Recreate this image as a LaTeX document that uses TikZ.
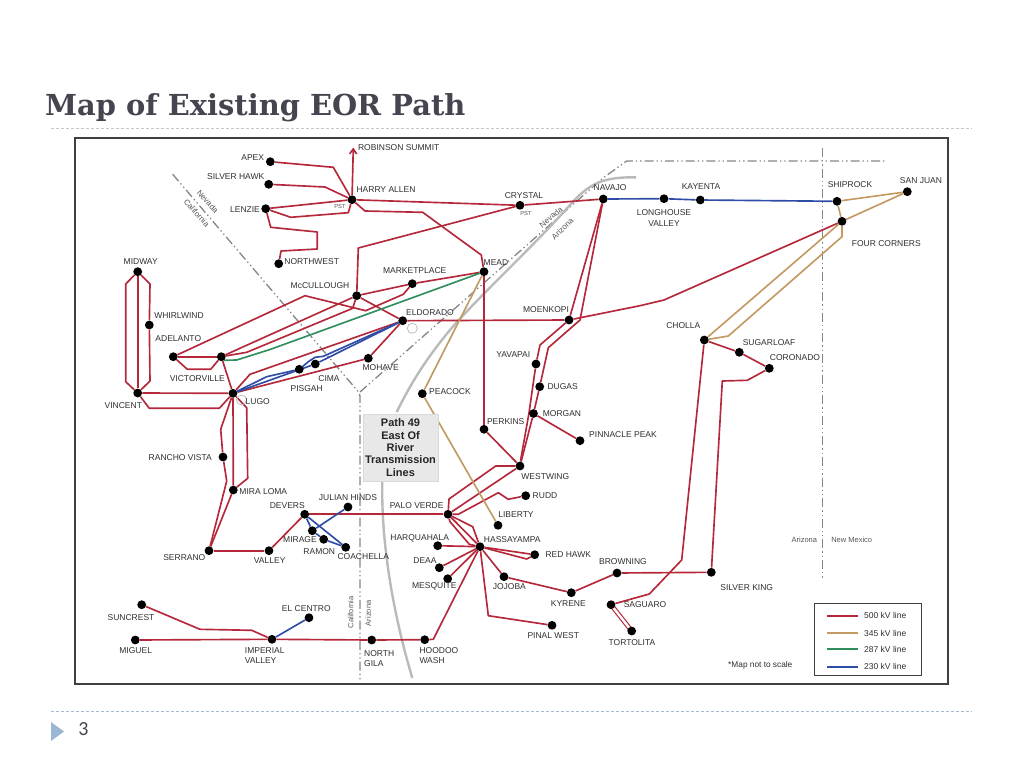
\documentclass[tikz,border=0pt]{standalone}
\usepackage{fontspec}
\setmainfont{Liberation Sans}
\newfontfamily\titlefont{DejaVu Serif}
\newfontfamily\numfont{Carlito}
\usetikzlibrary{arrows.meta}
\definecolor{cRed}{HTML}{B4283A}
\definecolor{cTan}{HTML}{C39A62}
\definecolor{cGreen}{HTML}{2F8F5F}
\definecolor{cBlue}{HTML}{2F4DA6}
\definecolor{cText}{HTML}{2E2E2E}
\definecolor{cBorder}{HTML}{858585}
\definecolor{cSmall}{HTML}{555555}
\definecolor{cTitle}{HTML}{44454F}
\definecolor{cBullet}{HTML}{9BB7D4}
\definecolor{cRuleB}{HTML}{A9BBCB}
\pgfdeclarelayer{wires}
\pgfsetlayers{wires,main}
\tikzset{
  bus/.style={circle,fill=black,inner sep=0pt,minimum size=8.8pt},
  lab/.style={inner sep=0pt,text=cText,font=\fontsize{8.5}{10}\selectfont},
  labl/.style={lab,anchor=west},
  small/.style={inner sep=0pt,text=cSmall,font=\fontsize{7.5}{9}\selectfont},
  diag/.style={small,font=\fontsize{8}{9}\selectfont},
  tiny/.style={small,font=\fontsize{5.8}{7}\selectfont},
  rv/.style={line width=1.65pt,cRed,line join=round},
  kv/.style={line width=1.65pt,cTan,line join=round},
  gv/.style={line width=1.65pt,cGreen,line join=round},
  bv/.style={line width=1.65pt,cBlue,line join=round},
  stateline/.style={line width=1.3pt,cBorder,dash pattern=on 9pt off 3pt on 1.3pt off 3pt on 1.3pt off 3pt},
  pathline/.style={line width=2.4pt,black!27},
  ruleline/.style={line width=0.9pt,dash pattern=on 3pt off 2pt},
  ghost/.style={circle,draw=black!25,line width=0.8pt,inner sep=0pt,minimum size=10pt},
}
\begin{document}
\begin{tikzpicture}[x=1pt,y=-1pt]
\useasboundingbox (0,0) rectangle (1024,768);
\node[inner sep=0pt,anchor=west,text=cTitle,font=\titlefont\bfseries\fontsize{28.9}{32}\selectfont] (title) at (45,107.5) {Map of Existing EOR Path};
\coordinate (r1a) at (51,128); \coordinate (r1b) at (972,128);
\coordinate (r2a) at (51,711.5); \coordinate (r2b) at (972,711.5);
\draw[ruleline,black!22] (r1a) -- (r1b);
\draw[ruleline,cRuleB] (r2a) -- (r2b);
\fill[cBullet] (51,722) -- (64,731.5) -- (51,741) -- cycle;
\node[inner sep=0pt,text=cTitle,font=\numfont\fontsize{20}{22}\selectfont] (pagenum) at (83.5,729.5) {3};
\node[draw=black!75,line width=1.5pt,minimum width=873pt,minimum height=546pt,inner sep=0pt] (frame) at (511.5,411) {};

% buses
\foreach \n/\x/\y in {
 apex/270.3/161.7, silverhawk/268.7/184.3, lenzie/265.7/208.7, harry/352/199.7, northwest/278.7/263.7,
 midway/137.7/271.7, whirlwind/149.3/325, adelanto/173.3/356.7, victorville/221.3/356.7, vincent/137.7/393,
 lugo/233/393.3, mccullough/356.7/295.7, pisgah/299.3/369.3, cima/315.3/364, mohave/368.3/358.3,
 eldorado/402.7/320.7, marketplace/412.3/283.7, mead/484/271.7, crystal/520/205.3, navajo/603.3/199,
 moenkopi/569/320, yavapai/536/364, dugas/539.7/386.7, morgan/533.5/413.5, peacock/422.3/393.7,
 longhouse/664/198.7, kayenta/700.3/200, shiprock/837/201.3, sanjuan/907.3/191.7, fourcorners/842/221.3,
 cholla/704.3/340, sugarloaf/739.3/352.3, coronado/769.3/368.3,
 ranchovista/223/457, miraloma/233.3/490, serrano/209/550.7, valley/269/550.7, devers/304.7/514.3,
 julianhinds/348/507, mirage/312.3/530.7, ramon/323.7/539.3, coachella/345.7/547.3,
 suncrest/141.7/604.7, miguel/135.3/640, imperial/272/639.3, elcentro/309/617.7, northgila/371.7/640,
 hoodoo/424.7/639.7, perkins/484/429.3, pinnacle/580/440.7, westwing/520/466, rudd/525.7/495.7,
 paloverde/448/514.3, liberty/498/525.3, hassayampa/480/546.7, harquahala/437.7/545.7, deaa/439.3/567.7,
 mesquite/447.7/578.7, redhawk/534.7/554.7, jojoba/504/576.7, kyrene/571.3/592.7, browning/617/573,
 pinalwest/552/625.3, saguaro/611/604.7, tortolita/631.7/631, silverking/711.3/572.3}
 {\node[bus] (\n) at (\x,\y) {};}
\node[ghost] (ghostA) at (412.3,328.3) {};
\node[ghost] (ghostB) at (241.5,400) {};

% centred labels
\foreach \n/\x/\y/\t in {
 apex/252.7/157.3/APEX, silverhawk/235.7/176.3/SILVER HAWK, lenzie/245/210/LENZIE,
 robinson/398.7/147.7/ROBINSON SUMMIT, harry/386/190/HARRY ALLEN, crystal/524/196/CRYSTAL, navajo/610/187.7/NAVAJO,
 longhouse/664/213/LONGHOUSE, longhouseb/664/223.7/VALLEY, kayenta/701/187/KAYENTA, shiprock/850/185/SHIPROCK,
 sanjuan/921/180.3/SAN JUAN, fourcorners/886.3/244/FOUR CORNERS, cholla/683.3/326/CHOLLA, sugarloaf/769/342.3/SUGARLOAF,
 coronado/795/357.7/CORONADO, northwest/311.7/261.3/NORTHWEST, midway/140.7/262/MIDWAY, whirlwind/179/315.3/WHIRLWIND,
 adelanto/178.3/338.3/ADELANTO, victorville/197.3/378.3/VICTORVILLE, vincent/123.3/405.7/VINCENT, lugo/257.7/401.3/LUGO,
 mccullough/320/285.7/McCULLOUGH, marketplace/414.7/270.3/MARKETPLACE, mead/496/262.7/MEAD, eldorado/430/312.7/ELDORADO,
 mohave/380.7/368/MOHAVE, cima/329/379/CIMA, pisgah/306.7/388.3/PISGAH, moenkopi/546/309.3/MOENKOPI, yavapai/513.3/355/YAVAPAI,
 dugas/562.7/386.7/DUGAS, morgan/562/414/MORGAN, peacock/450/392/PEACOCK, perkins/505.7/421.3/PERKINS,
 pinnacle/623/435/PINNACLE PEAK, westwing/545.3/476.3/WESTWING, rudd/545/495.7/RUDD, liberty/516/514.7/LIBERTY,
 paloverde/416.7/505.3/PALO VERDE, harquahala/419.7/538/HARQUAHALA, hassayampa/512.3/539.7/HASSAYAMPA, deaa/425/560.3/DEAA,
 mesquite/434.3/586.7/MESQUITE, redhawk/568.3/554.3/RED HAWK, jojoba/509.3/586.3/JOJOBA, kyrene/568.3/603.7/KYRENE,
 browning/623/561.3/BROWNING, silverking/746.7/587.7/SILVER KING, saguaro/645/604.7/SAGUARO, tortolita/632/643/TORTOLITA,
 pinalwest/553.3/635.7/PINAL WEST, elcentro/306.3/609/EL CENTRO, miguel/135.7/650.7/MIGUEL, suncrest/131/617.3/SUNCREST,
 ranchovista/180.3/457.3/RANCHO VISTA, miraloma/263.3/491.7/MIRA LOMA, serrano/184.3/557.7/SERRANO, valley/269.7/561/VALLEY,
 devers/287.3/506/DEVERS, julianhinds/348/497.3/JULIAN HINDS, mirage/300/539.7/MIRAGE, ramon/319.3/552/RAMON, coachella/363.3/557/COACHELLA}
 {\node[lab] (t-\n) at (\x,\y) {\t};}
% left aligned two-line labels
\foreach \n/\x/\y/\t in {
 hoodoo/419.3/650.3/HOODOO, hoodoob/419.3/660.7/WASH, northgila/364/653.3/NORTH, northgilab/364/663.7/GILA,
 imperial/244.7/650.3/IMPERIAL, imperialb/244.7/660.7/VALLEY}
 {\node[labl] (t-\n) at (\x,\y) {\t};}
% small annotations
\node[tiny] (pstA) at (340,206.3) {PST};
\node[tiny] (pstB) at (526,213.7) {PST};
\node[diag,rotate=-48] (nvA) at (207.7,201.7) {Nevada};
\node[diag,rotate=-48] (caA) at (196.7,213) {California};
\node[diag,rotate=40] (nvB) at (551,217) {Nevada};
\node[diag,rotate=45] (azB) at (562.5,229) {Arizona};
\node[small,rotate=90] (caC) at (350.7,612.3) {California};
\node[small,rotate=90] (azC) at (368.3,613.3) {Arizona};
\node[small] (azD) at (804.3,540) {Arizona};
\node[small] (nmD) at (851.7,540) {New Mexico};
% path box
\node[draw=black!15,fill=black!9,inner sep=0pt,minimum width=75.6pt,minimum height=67pt,align=center,
  font=\bfseries\fontsize{11}{12.4}\selectfont,text=black!85] (pathbox) at (400.5,447.5)
  {Path 49\\East Of\\River\\Transmission\\Lines};
% legend
\node[draw=black!75,line width=1pt,minimum width=107.4pt,minimum height=72.3pt,inner sep=0pt] (legend) at (868,639.8) {};
\foreach \n/\y/\t in {a/615.7/500 kV line, b/633/345 kV line, c/649.3/287 kV line, d/666.7/230 kV line}
 {\node[labl,font=\fontsize{8.5}{10}\selectfont] (leg-\n) at (864,\y) {\t};
  \coordinate (lega-\n) at (827.3,\y); \coordinate (legb-\n) at (858.3,\y);}
\node[lab,font=\fontsize{8.3}{10}\selectfont] (noscale) at (760.3,665.3) {*Map not to scale};
\coordinate (robtip) at (353.3,147.5);

\begin{pgfonlayer}{wires}
% state lines
\draw[stateline] (172.7,174.3) -- (358.3,391.7) -- (360,396) -- (360,681);
\draw[stateline] (360,392) -- (603,178) -- (626.7,161) -- (886.7,161);
\draw[stateline] (822.7,148) -- (822.7,578);
% path 49 curve
\draw[pathline] (636,177.3) .. controls (605,177) and (590,182) .. (570,205)
  .. controls (530,250) and (480,295) .. (450,330) .. controls (425,360) and (410,385) .. (396.7,412);
\draw[pathline] (382.3,481) .. controls (381,540) and (392,610) .. (412.3,678);
% 500 kV
\draw[rv] (apex) -- (333.3,167.3) -- (harry);
\draw[rv] (silverhawk) -- (325,187) -- (harry);
\draw[rv] (lenzie) -- (harry);
\draw[rv] (lenzie) -- (290.7,217.3) -- (348.3,212.7) -- (harry);
\draw[rv] (lenzie) -- (270.7,227.3) -- (317.3,232) -- (317.3,249) -- (281,251) -- (northwest);
\draw[rv,-{Straight Barb[length=5pt,width=7pt]}] (harry) -- (robtip);
\draw[rv] (harry) -- (crystal);
\draw[rv] (crystal) -- (navajo);
\draw[rv] (harry) -- (365,211) -- (422.7,212.3) -- (481.3,255) -- (mead);
\draw[rv] (crystal) -- (358.3,248) -- (mccullough);
\draw[rv] (adelanto) -- (305,295.7) -- (365.7,310.7) -- (403.3,294.3) -- (marketplace);
\draw[rv] (adelanto) -- (victorville);
\draw[rv] (adelanto) -- (187.3,369.3) -- (210.7,369.3) -- (victorville);
\draw[rv] (victorville) -- (mccullough);
\draw[rv] (victorville) -- (246.7,352.3) -- (352.7,308.3) -- (mccullough);
\draw[rv] (mccullough) -- (marketplace);
\draw[rv] (marketplace) -- (mead);
\draw[rv] (mccullough) -- (eldorado);
\draw[rv] (eldorado) -- (moenkopi);
\draw[rv] (moenkopi) -- (640,305.7) -- (664,300) -- (fourcorners);
\draw[rv] (lugo) -- (250,374.3) -- (eldorado);
\draw[rv] (lugo) -- (mohave);
\draw[rv] (mohave) -- (eldorado);
\draw[rv] (midway) -- (vincent);
\draw[rv] (midway) -- (125.7,284) -- (125.7,381.7) -- (vincent);
\draw[rv] (midway) -- (150,284) -- (whirlwind) -- (150,381) -- (vincent);
\draw[rv] (vincent) -- (lugo);
\draw[rv] (vincent) -- (149.3,408.3) -- (219.3,408.3) -- (lugo);
\draw[rv] (victorville) -- (lugo);
\draw[rv] (lugo) -- (220.7,429.3) -- (ranchovista) -- (226.7,481) -- (serrano);
\draw[rv] (lugo) -- (miraloma);
\draw[rv] (miraloma) -- (serrano);
\draw[rv] (lugo) -- (246.7,407.7) -- (247.7,478.3) -- (miraloma);
\draw[rv] (serrano) -- (valley);
\draw[rv] (valley) -- (devers);
\draw[rv] (devers) -- (paloverde);
\draw[rv] (suncrest) -- (200,629.3) -- (251.7,630.3) -- (imperial);
\draw[rv] (miguel) -- (imperial);
\draw[rv] (imperial) -- (northgila);
\draw[rv] (northgila) -- (hoodoo);
\draw[rv] (hoodoo) -- (433.3,639.3) -- (hassayampa);
\draw[rv] (mead) -- (perkins);
\draw[rv] (perkins) -- (westwing);
\draw[rv] (navajo) -- (moenkopi);
\draw[rv] (navajo) -- (580,320) -- (548.3,347.7) -- (dugas);
\draw[rv] (dugas) -- (morgan);
\draw[rv] (moenkopi) -- (540,345) -- (yavapai);
\draw[rv] (yavapai) -- (529,413) -- (521,458) -- (westwing);
\draw[rv] (morgan) -- (westwing);
\draw[rv] (morgan) -- (pinnacle);
\draw[rv] (westwing) -- (495.7,466) -- (449,499) -- (paloverde);
\draw[rv] (westwing) -- (paloverde);
\draw[rv] (paloverde) -- (458.3,514.3) -- (498.3,492.7) -- (508.3,499.3) -- (rudd);
\draw[rv] (paloverde) -- (472.7,526.7) -- (hassayampa);
\draw[rv] (paloverde) -- (450,521.7) -- (469.3,544.3) -- (hassayampa);
\draw[rv] (paloverde) -- (hassayampa);
\draw[rv] (hassayampa) -- (harquahala);
\draw[rv] (hassayampa) -- (deaa);
\draw[rv] (hassayampa) -- (mesquite);
\draw[rv] (hassayampa) -- (redhawk);
\draw[rv] (hassayampa) -- (526.7,559) -- (redhawk);
\draw[rv] (hassayampa) -- (jojoba);
\draw[rv] (jojoba) -- (kyrene);
\draw[rv] (kyrene) -- (browning);
\draw[rv] (browning) -- (silverking);
\draw[rv] (hassayampa) -- (488.3,615.7) -- (pinalwest);
\draw[rv] (cholla) -- (681.7,560) -- (649.3,594) -- (saguaro);
\draw[rv] (cholla) -- (sugarloaf);
\draw[rv] (sugarloaf) -- (coronado);
\draw[rv] (coronado) -- (747.3,380.3) -- (722.3,381) -- (silverking);
\draw[rv,line width=1pt] ([xshift=-1.4pt,yshift=-1.2pt]saguaro.center) -- ([xshift=-1.4pt,yshift=-1.2pt]tortolita.center);
\draw[rv,line width=1pt] ([xshift=1.4pt,yshift=1.2pt]saguaro.center) -- ([xshift=1.4pt,yshift=1.2pt]tortolita.center);
% 345 kV
\draw[kv] (mead) -- (peacock);
\draw[kv] (peacock) -- (liberty);
\draw[kv] (shiprock) -- (sanjuan);
\draw[kv] (shiprock) -- (fourcorners);
\draw[kv] (fourcorners) -- (sanjuan);
\draw[kv] (fourcorners) -- (cholla);
\draw[kv] (fourcorners) -- (842,236.7) -- (728.3,336) -- (cholla);
% 287 kV
\draw[gv] (victorville) -- (224,360.3) -- (236.7,360) -- (270,349.5) -- (mead);
% 230 kV
\draw[bv] (lugo) -- (266.7,376.7) -- (pisgah);
\draw[bv] (pisgah) -- (308.3,361.7) -- (315,357.3) -- (323.3,356.3) -- (eldorado);
\draw[bv] (lugo) -- (cima);
\draw[bv] (cima) -- (eldorado);
\draw[bv] (navajo) -- (longhouse);
\draw[bv] (longhouse) -- (kayenta);
\draw[bv] (kayenta) -- (shiprock);
\draw[bv] (devers) -- (mirage);
\draw[bv] (julianhinds) -- (mirage);
\draw[bv] (mirage) -- (ramon);
\draw[bv] (ramon) -- (coachella);
\draw[bv] (devers) -- (coachella);
\draw[bv] (imperial) -- (elcentro);
% legend samples
\draw[rv] (lega-a) -- (legb-a);
\draw[kv] (lega-b) -- (legb-b);
\draw[gv] (lega-c) -- (legb-c);
\draw[bv] (lega-d) -- (legb-d);
\end{pgfonlayer}
\end{tikzpicture}
\end{document}
